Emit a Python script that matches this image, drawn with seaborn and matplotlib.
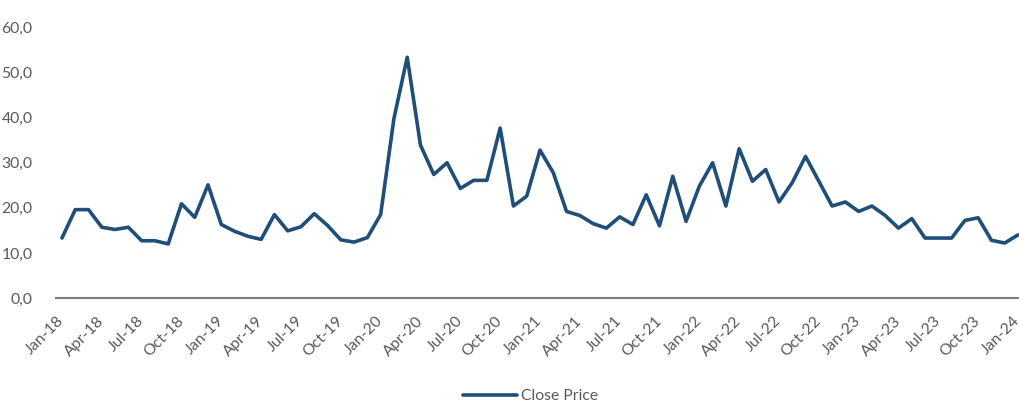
import matplotlib
matplotlib.use("Agg")
import matplotlib.pyplot as plt
import seaborn as sns
import pandas as pd
import numpy as np

months = pd.date_range("2018-01-01", "2024-01-01", freq="MS")
close_price = [
    13.3, 19.6, 19.6, 15.7, 15.2, 15.7, 12.7, 12.7, 12.0, 20.9, 17.9, 25.1,
    16.3, 14.8, 13.7, 13.0, 18.5, 14.9, 15.8, 18.7, 16.1, 12.9, 12.4, 13.4,
    18.5, 39.8, 53.4, 33.9, 27.4, 30.0, 24.3, 26.1, 26.1, 37.7, 20.4, 22.6,
    32.8, 27.8, 19.2, 18.3, 16.5, 15.5, 18.0, 16.3, 22.9, 16.0, 27.0, 17.0,
    24.8, 30.0, 20.4, 33.1, 25.9, 28.5, 21.3, 25.6, 31.4, 25.9, 20.4, 21.3,
    19.2, 20.4, 18.3, 15.5, 17.6, 13.3, 13.3, 13.3, 17.2, 17.8, 12.8, 12.2,
    14.0,
]
y_ticks = [0, 10, 20, 30, 40, 50, 60]

df = pd.DataFrame({"idx": np.arange(len(months)), "Close Price": close_price})
labels = [d.strftime("%b-%y") for d in months]

sns.set_theme(style="white")
plt.rcParams["font.family"] = ["Lato", "DejaVu Sans"]

fig = plt.figure(figsize=(10.2, 4.03), dpi=100)
ax = fig.add_axes([0.0549, 0.2605, 0.9451, 0.6713])

sns.lineplot(data=df, x="idx", y="Close Price", ax=ax, color="#1F4E79",
             linewidth=2.6, label="Close Price", legend=False)

ax.set_xlim(-0.45, 72.15)
ax.set_ylim(0, 60)
ax.set_yticks(y_ticks)
ax.set_yticklabels([f"{v:.1f}".replace(".", ",") for v in y_ticks])
tick_pos = list(range(0, len(months), 3))
ax.set_xticks(tick_pos)
ax.set_xticklabels([labels[i] for i in tick_pos], rotation=45, ha="right",
                   va="center", rotation_mode="anchor")
ax.tick_params(axis="x", length=0, pad=15, labelsize=11.3, labelcolor="#595959")
ax.tick_params(axis="y", length=0, pad=17, labelsize=11.3, labelcolor="#595959")
ax.set_xlabel("")
ax.set_ylabel("")
for s in ["top", "right", "left"]:
    ax.spines[s].set_visible(False)
ax.spines["bottom"].set_color("#7F7F7F")
ax.spines["bottom"].set_linewidth(1.5)
ax.grid(False)

handles, lbls = ax.get_legend_handles_labels()
fig.legend(handles, lbls, loc="center", bbox_to_anchor=(531 / 1020, 1 - 396 / 403),
           frameon=False, fontsize=11.3, handlelength=3.4, handletextpad=0.3,
           labelcolor="#595959")

fig.savefig("out.png", dpi=100)
